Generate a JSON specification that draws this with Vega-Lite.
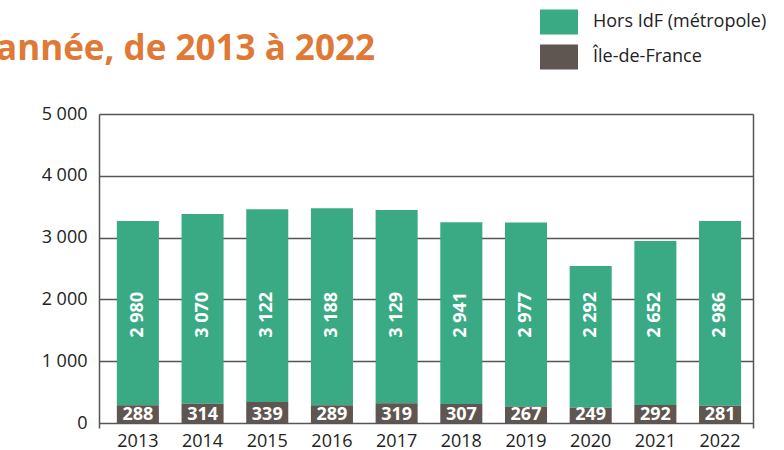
{
  "$schema": "https://vega.github.io/schema/vega-lite/v6.json",
  "width": 654,
  "height": 314,
  "autosize": {"type": "none"},
  "padding": {"left": 99, "top": 114, "right": 31, "bottom": 22},
  "background": "white",
  "title": {
    "text": "année, de 2013 à 2022",
    "anchor": "start",
    "frame": "group",
    "baseline": "alphabetic",
    "offset": -92,
    "dx": -103,
    "fontSize": 35,
    "fontWeight": "bold",
    "color": "#e07836",
    "font": "Open Sans"
  },
  "data": {
    "values": [
      {"year": "2013", "region": "Hors IdF (métropole)", "value": 2980},
      {"year": "2014", "region": "Hors IdF (métropole)", "value": 3070},
      {"year": "2015", "region": "Hors IdF (métropole)", "value": 3122},
      {"year": "2016", "region": "Hors IdF (métropole)", "value": 3188},
      {"year": "2017", "region": "Hors IdF (métropole)", "value": 3129},
      {"year": "2018", "region": "Hors IdF (métropole)", "value": 2941},
      {"year": "2019", "region": "Hors IdF (métropole)", "value": 2977},
      {"year": "2020", "region": "Hors IdF (métropole)", "value": 2292},
      {"year": "2021", "region": "Hors IdF (métropole)", "value": 2652},
      {"year": "2022", "region": "Hors IdF (métropole)", "value": 2986},
      {"year": "2013", "region": "Île-de-France", "value": 288},
      {"year": "2014", "region": "Île-de-France", "value": 314},
      {"year": "2015", "region": "Île-de-France", "value": 339},
      {"year": "2016", "region": "Île-de-France", "value": 289},
      {"year": "2017", "region": "Île-de-France", "value": 319},
      {"year": "2018", "region": "Île-de-France", "value": 307},
      {"year": "2019", "region": "Île-de-France", "value": 267},
      {"year": "2020", "region": "Île-de-France", "value": 249},
      {"year": "2021", "region": "Île-de-France", "value": 292},
      {"year": "2022", "region": "Île-de-France", "value": 281}
    ]
  },
  "encoding": {
    "x": {
      "field": "year",
      "type": "nominal",
      "scale": {"paddingInner": 0.35, "paddingOuter": 0.23, "align": 0.6},
      "axis": {
        "title": null,
        "labelAngle": 0,
        "domain": false,
        "ticks": false,
        "labelFontSize": 18,
        "labelColor": "#222222",
        "labelPadding": 4,
        "labelFont": "Open Sans"
      }
    }
  },
  "layer": [
    {
      "mark": {"type": "bar"},
      "encoding": {
        "y": {
          "field": "value",
          "type": "quantitative",
          "stack": "zero",
          "scale": {"domain": [-80, 5000], "nice": false, "zero": false},
          "axis": {
            "title": null,
            "values": [0, 1000, 2000, 3000, 4000, 5000],
            "format": ",d",
            "grid": true,
            "gridColor": "#555555",
            "gridWidth": 1.5,
            "domain": true,
            "domainColor": "#555555",
            "domainWidth": 1.5,
            "ticks": false,
            "labelFontSize": 18,
            "labelColor": "#222222",
            "labelPadding": 12,
            "labelFont": "Open Sans"
          }
        },
        "color": {
          "field": "region",
          "type": "nominal",
          "scale": {
            "domain": ["Hors IdF (métropole)", "Île-de-France"],
            "range": ["#3aaa85", "#5f5551"]
          },
          "legend": {
            "title": null,
            "orient": "none",
            "legendX": 441,
            "legendY": -111,
            "symbolType": "M-1,-0.66H1V0.66H-1Z",
            "symbolSize": 1444,
            "symbolStrokeWidth": 0,
            "labelFontSize": 18,
            "labelColor": "#222222",
            "labelFont": "Open Sans",
            "labelOffset": 15,
            "labelLimit": 300,
            "rowPadding": 3
          }
        },
        "order": {"field": "region", "sort": "descending"}
      }
    },
    {
      "transform": [{"filter": "datum.region === 'Hors IdF (métropole)'"}],
      "mark": {
        "type": "text",
        "angle": 270,
        "align": "left",
        "baseline": "middle",
        "color": "white",
        "fontWeight": "bold",
        "fontSize": 18,
        "font": "Open Sans"
      },
      "encoding": {
        "y": {"datum": 1380, "type": "quantitative", "axis": null},
        "text": {"field": "value", "type": "quantitative", "format": ",d"}
      }
    },
    {
      "transform": [{"filter": "datum.region === 'Île-de-France'"}],
      "mark": {
        "type": "text",
        "align": "center",
        "baseline": "alphabetic",
        "dy": -3,
        "color": "white",
        "fontWeight": "bold",
        "fontSize": 18,
        "font": "Open Sans"
      },
      "encoding": {
        "y": {
          "datum": 0,
          "type": "quantitative",
          "axis": {
            "orient": "right",
            "labels": false,
            "ticks": false,
            "grid": false,
            "title": null,
            "domain": true,
            "domainColor": "#555555",
            "domainWidth": 1.5
          }
        },
        "text": {"field": "value", "type": "quantitative", "format": ",d"}
      }
    }
  ],
  "resolve": {"axis": {"y": "independent"}},
  "config": {
    "locale": {
      "number": {"decimal": ",", "thousands": " ", "grouping": [3], "currency": ["", " €"]}
    },
    "view": {"stroke": null}
  }
}
